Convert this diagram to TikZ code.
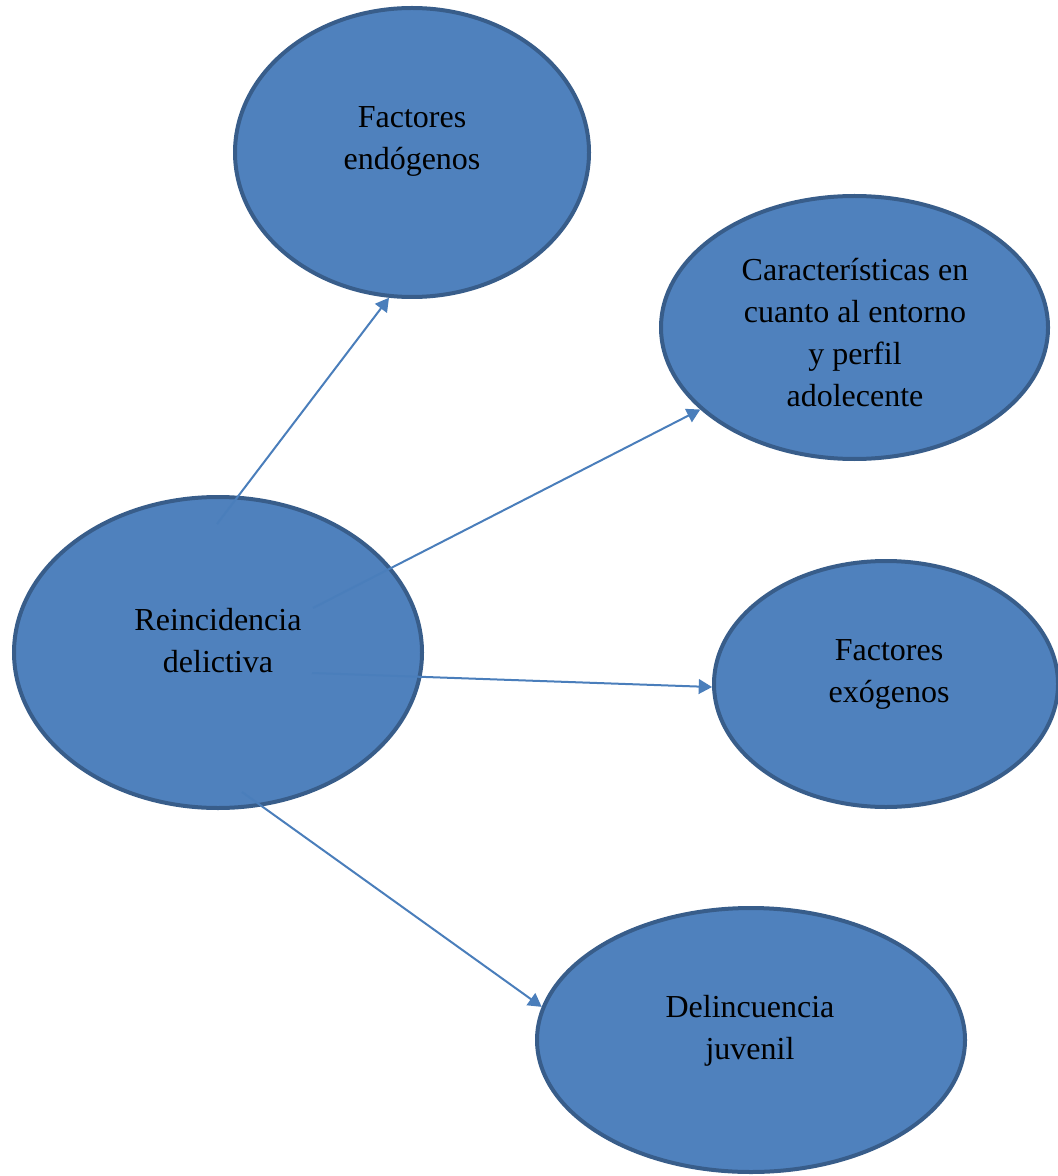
\documentclass[tikz,border=0pt]{standalone}
\usepackage{fontspec}
\setmainfont{Liberation Serif}
\usetikzlibrary{shapes.geometric,arrows.meta}

\definecolor{ovalfill}{RGB}{79,129,189}
\definecolor{ovalline}{RGB}{56,93,138}
\definecolor{linkblue}{RGB}{74,126,187}

\tikzset{every picture/.style={line width=0.75pt}}
\tikzset{
  oval/.style={ellipse, draw=ovalline, fill=ovalfill, line width=3pt, inner sep=0pt},
  lbl/.style={font=\fontsize{24}{31.5}\selectfont, align=center, inner sep=0pt},
  link/.style={draw=linkblue, line width=1.5pt, -{Triangle[length=10pt,width=11pt]}}
}

\begin{document}
\begin{tikzpicture}[x=0.75pt,y=0.75pt,yscale=-1,xscale=1]
\useasboundingbox (0,0) rectangle (1057,1176);

%Shape: Ellipse
\node [oval, minimum width=265.5pt, minimum height=216.75pt] (endo) at (412,152.5) {};
%Shape: Ellipse
\node [oval, minimum width=290.25pt, minimum height=197.25pt] (carac) at (854.5,327.5) {};
%Shape: Ellipse
\node [oval, minimum width=306pt, minimum height=233.25pt] (reinc) at (218,652.5) {};
%Shape: Ellipse
\node [oval, minimum width=258pt, minimum height=184.5pt] (exog) at (886,684) {};
%Shape: Ellipse
\node [oval, minimum width=321pt, minimum height=198pt] (delin) at (751,1040) {};

%Straight Lines
\coordinate (s1) at (217,524);
\coordinate (s2) at (313,608);
\coordinate (s3) at (312,673);
\coordinate (s4) at (242,792);
\draw [link] (s1) -- (endo.261.4);
\draw [link] (s2) -- (carac.208.2);
\draw [link] (s3) -- (exog.181);
\draw [link] (s4) -- (delin.171.7);

% Text Node
\node [lbl] (t1) at (412,141) {Factores\\endógenos};
% Text Node
\node [lbl] (t2) at (855,333) {Características en\\cuanto al entorno\\y perfil\\adolecente};
% Text Node
\node [lbl] (t3) at (218,641) {Reincidencia\\delictiva};
% Text Node
\node [lbl] (t4) at (889,674) {Factores\\exógenos};
% Text Node
\node [lbl] (t5) at (750,1031) {Delincuencia\\juvenil};

\end{tikzpicture}
\end{document}
